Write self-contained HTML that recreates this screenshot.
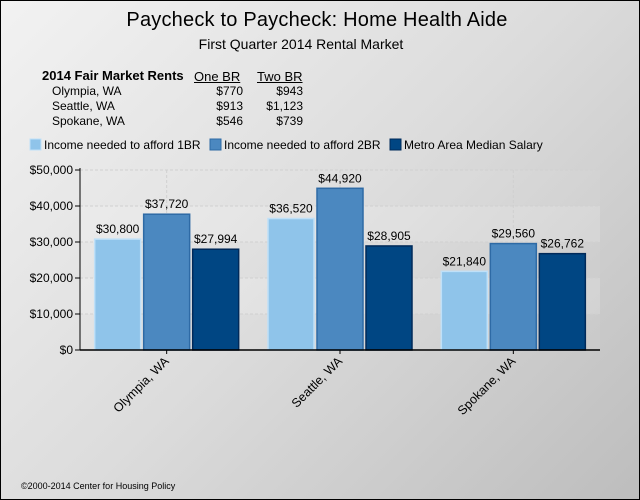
<!DOCTYPE html>
<html><head><meta charset="utf-8">
<style>
body{margin:0;width:640px;height:500px;overflow:hidden;font-family:"Liberation Sans",sans-serif;}
#frame{position:absolute;left:0;top:0;width:638px;height:498px;border:1px solid #000;background:linear-gradient(135deg,#f2f2f2 0%,#dcdcdc 50%,#bdbdbd 100%);}
.t{position:absolute;white-space:nowrap;color:#000;}
</style></head><body>
<div id="frame">
<div class="t" style="left:0;width:632px;text-align:center;top:8px;font-size:20px;letter-spacing:0.2px;">Paycheck to Paycheck: Home Health Aide</div>
<div class="t" style="left:0;width:600px;text-align:center;top:35px;font-size:14px;">First Quarter 2014 Rental Market</div>
<div style="position:absolute;left:0;top:0;font-size:12px;">
<div class="t" style="left:41px;top:67px;font-weight:bold;font-size:13px;">2014 Fair Market Rents</div>
<div class="t" style="left:193px;top:68px;font-size:13px;text-decoration:underline;">One BR</div>
<div class="t" style="left:256px;top:68px;font-size:13px;text-decoration:underline;">Two BR</div>
<div class="t" style="left:51px;top:83px;">Olympia, WA</div>
<div class="t" style="left:51px;top:98px;">Seattle, WA</div>
<div class="t" style="left:51px;top:113px;">Spokane, WA</div>
<div class="t" style="left:190px;width:52px;text-align:right;top:83px;">$770</div>
<div class="t" style="left:190px;width:52px;text-align:right;top:98px;">$913</div>
<div class="t" style="left:190px;width:52px;text-align:right;top:113px;">$546</div>
<div class="t" style="left:250px;width:52px;text-align:right;top:83px;">$943</div>
<div class="t" style="left:250px;width:52px;text-align:right;top:98px;">$1,123</div>
<div class="t" style="left:250px;width:52px;text-align:right;top:113px;">$739</div>
</div>
<div class="t" style="left:20px;top:480px;font-size:9px;">©2000-2014 Center for Housing Policy</div>
</div>
<svg id="chart" width="640" height="500" style="position:absolute;left:0;top:0"></svg>
<script>
const categories=["Olympia, WA","Seattle, WA","Spokane, WA"];
const seriesNames=["Income needed to afford 1BR","Income needed to afford 2BR","Metro Area Median Salary"];
const income1BR=[30800,36520,21840];
const income2BR=[37720,44920,29560];
const medianSalary=[27994,28905,26762];
const yTicks=[0,10000,20000,30000,40000,50000];
const series=[income1BR,income2BR,medianSalary];
const fills=["#8fc4ea","#4b88c0","#004683"];
const strokes=["#bfe0f8","#2e6aa5","#002a5a"];
const X0=80,X1=600,Y0=350,Y1=170,YMAX=50000;
const y=v=>Y0-(v/YMAX)*(Y0-Y1);
const gw=(X1-X0)/categories.length;
const xc=i=>X0+gw*(i+0.5);
const svg=document.getElementById('chart');
const NS="http://www.w3.org/2000/svg";
function mk(t,a,txt){const e=document.createElementNS(NS,t);for(const k in a)e.setAttribute(k,a[k]);if(txt!=null)e.textContent=txt;svg.appendChild(e);return e;}
const fmt=v=>"$"+v.toLocaleString("en-US");
for(let i=0;i<yTicks.length-1;i++){
  const r=mk('rect',{x:X0,y:y(yTicks[i+1]),width:X1-X0,height:y(yTicks[i])-y(yTicks[i+1]),fill:i%2?"rgba(255,255,255,0.18)":"rgba(255,255,255,0.05)"});
  
  
}
yTicks.forEach(t=>{
  if(t>0){const g=mk('line',{x1:X0,x2:X1,y1:y(t),y2:y(t),stroke:"#d0d0d0","stroke-dasharray":"3,2"});
  }
  const tk=mk('line',{x1:X0-5,x2:X0,y1:y(t),y2:y(t),stroke:"#000"});
  
  const l=mk('text',{x:X0-7,y:y(t)+4,"text-anchor":"end","font-size":"12",fill:"#000","font-family":"Liberation Sans"},fmt(t));
  
});
categories.forEach((c,i)=>{
  const vg=mk('line',{x1:xc(i),x2:xc(i),y1:Y1,y2:Y0,stroke:"#d0d0d0","stroke-dasharray":"3,2"});
  
  const bw=47,gap=2,tot=3*bw+2*gap;
  series.forEach((s,j)=>{
    const bx=xc(i)-tot/2+j*(bw+gap);
    const r=mk('rect',{x:bx+0.5,y:y(s[i]),width:bw-1,height:Y0-y(s[i]),fill:fills[j],stroke:strokes[j],"stroke-width":1.5});
    
    
    const t=mk('text',{x:bx+bw/2,y:y(s[i])-6,"text-anchor":"middle","font-size":"12",fill:"#000","font-family":"Liberation Sans"},fmt(s[i]));
    
  });
  const tk=mk('line',{x1:xc(i),x2:xc(i),y1:Y0,y2:Y0+4,stroke:"#000"});
  
  const l=mk('text',{x:xc(i)+3,y:Y0+12,"text-anchor":"end","font-size":"12.5",fill:"#000","font-family":"Liberation Sans",transform:`rotate(-45 ${xc(i)+3} ${Y0+12})`},c);
  
});
const ax=mk('line',{x1:X0,x2:X0,y1:Y1-2,y2:Y0,stroke:"#000"});

const bx=mk('line',{x1:X0,x2:X1,y1:Y0,y2:Y0,stroke:"#000","stroke-width":1.5});

const legX=[30,210,390];
seriesNames.forEach((n,j)=>{
  const r=mk('rect',{x:legX[j],y:139,width:11,height:11,fill:fills[j],stroke:strokes[j]});
  
  const t=mk('text',{x:legX[j]+14,y:149,"font-size":"12",fill:"#000","font-family":"Liberation Sans"},n);
  
});
</script>
</body></html>
